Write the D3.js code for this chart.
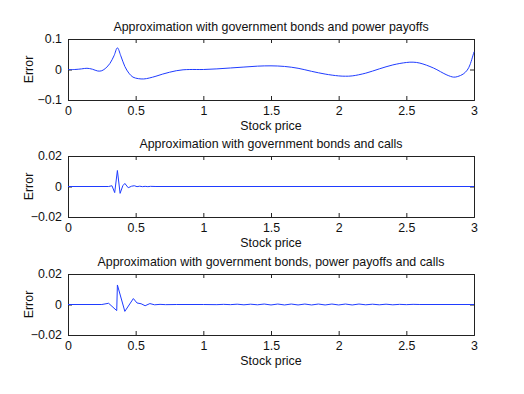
<!DOCTYPE html>
<html><head><meta charset="utf-8">
<script src="https://cdn.jsdelivr.net/npm/d3@7"></script>
<style>html,body{margin:0;padding:0;background:#fff;}svg{display:block;}</style>
</head><body>
<svg id="c" width="524" height="394"></svg>
<script>
// ---- data ----
const titles = [
  "Approximation with government bonds and power payoffs",
  "Approximation with government bonds and calls",
  "Approximation with government bonds, power payoffs and calls"
];
const xLabel = "Stock price";
const yLabel = "Error";
const xTicks = [0, 0.5, 1, 1.5, 2, 2.5, 3];
const yTicks1 = [-0.1, 0, 0.1];
const yTicks2 = [-0.02, 0, 0.02];
const yTicks3 = [-0.02, 0, 0.02];

// panel 1: bonds + power payoffs
const series1 = [
  [0,0],[0.05,0.0],[0.1,0.002],[0.14,0.004],[0.18,0.001],[0.22,-0.005],[0.25,-0.004],
  [0.28,0.005],[0.31,0.02],[0.34,0.045],[0.365,0.071],[0.39,0.045],[0.42,0.01],
  [0.45,-0.012],[0.48,-0.025],[0.52,-0.030],[0.56,-0.031],[0.6,-0.028],[0.65,-0.022],
  [0.7,-0.015],[0.75,-0.009],[0.8,-0.004],[0.85,-0.001],[0.9,0.0],[1.0,0.0],
  [1.1,0.002],[1.2,0.005],[1.3,0.008],[1.4,0.011],[1.5,0.012],[1.6,0.010],[1.7,0.004],
  [1.8,-0.006],[1.9,-0.015],[2.0,-0.021],[2.05,-0.022],[2.1,-0.021],[2.2,-0.012],
  [2.3,0.002],[2.4,0.015],[2.5,0.023],[2.55,0.024],[2.6,0.021],[2.7,0.005],
  [2.8,-0.018],[2.85,-0.025],[2.88,-0.023],[2.92,-0.015],[2.95,-0.002],[2.97,0.015],[3.0,0.058]
];
// panel 2: bonds + calls
const series2 = [
  [0,0],[0.3,0],[0.325,0.0005],[0.345,-0.004],[0.365,0.0105],[0.385,-0.0045],
  [0.405,0.0005],[0.42,0.002],[0.445,-0.0008],[0.47,0.0002],[0.49,0.0005],
  [0.51,-0.0001],[0.53,0.0002],[0.55,-0.0001],[0.57,0.0001],[0.59,-0.0001],
  [0.61,0.0001],[0.65,0],[3.0,0]
];
// panel 3: bonds + power payoffs + calls
const series3 = [
  [0,0],[0.25,0],[0.3,0.0008],[0.36,-0.004],[0.365,0.0128],[0.42,-0.0045],
  [0.483,0.0039],[0.51,0.001],[0.54,0.0005],[0.57,-0.0008],[0.605,0.0006],
  [0.64,-0.0002],[0.68,0.0001],[0.72,-0.0001],[0.8,0],[1.0,0],
  [1.1,-0.0001],[1.15,0.0001],[1.2,-0.0001],[1.25,0.0002],[1.3,-0.0002],
  [1.35,0.0002],[1.4,-0.0002],[1.45,0.0003],[1.5,-0.0003],[1.55,0.0003],
  [1.6,-0.0003],[1.65,0.0003],[1.7,-0.0003],[1.75,0.0003],[1.8,-0.0003],
  [1.85,0.0003],[1.9,-0.0003],[1.95,0.0003],[2.0,-0.0003],[2.05,0.0003],
  [2.1,-0.0003],[2.15,0.0003],[2.2,-0.0002],[2.25,0.0002],[2.3,-0.0002],
  [2.35,0.0002],[2.4,-0.0002],[2.45,0.0001],[2.5,-0.0001],[2.55,0.0001],
  [2.6,0],[3.0,0]
];

// ---- drawing ----
const svg = d3.select("#c");
const left = 68, right = 474;
const panels = [
  {top:39, bottom:100, dom:[-0.1,0.1], ticks:yTicks1, data:series1, title:titles[0], fmt:d=>d===0?"0":d3.format(".1f")(d), curve:d3.curveCatmullRom.alpha(0.5)},
  {top:156, bottom:217, dom:[-0.02,0.02], ticks:yTicks2, data:series2, title:titles[1], fmt:d=>d===0?"0":d3.format(".2f")(d), curve:d3.curveLinear},
  {top:274, bottom:335, dom:[-0.02,0.02], ticks:yTicks3, data:series3, title:titles[2], fmt:d=>d===0?"0":d3.format(".2f")(d), curve:d3.curveLinear}
];
const font = "'Liberation Sans', Arial, Helvetica, sans-serif";
const fs = 12.4;
const x = d3.scaleLinear().domain([0,3]).range([left,right]);
const xfmt = d => d3.format("")(d);

panels.forEach(p => {
  const y = d3.scaleLinear().domain(p.dom).range([p.bottom, p.top]);
  const g = svg.append("g");
  const tl = 4;
  const axB = g.append("g").attr("transform",`translate(0,${p.bottom})`)
    .call(d3.axisBottom(x).tickValues(xTicks).tickSize(-tl).tickPadding(6).tickFormat(xfmt));
  const axT = g.append("g").attr("transform",`translate(0,${p.top})`)
    .call(d3.axisTop(x).tickValues(xTicks).tickSize(-tl).tickFormat(""));
  const axL = g.append("g").attr("transform",`translate(${left},0)`)
    .call(d3.axisLeft(y).tickValues(p.ticks).tickSize(-tl).tickPadding(6).tickFormat(p.fmt));
  const axR = g.append("g").attr("transform",`translate(${right},0)`)
    .call(d3.axisRight(y).tickValues(p.ticks).tickSize(-tl).tickFormat(""));
  [axB,axT,axL,axR].forEach(a=>{
    a.select(".domain").attr("stroke","#222").attr("stroke-width",1);
    a.selectAll(".tick line").attr("stroke","#222");
    a.selectAll("text").attr("font-family",font).attr("font-size",fs).attr("fill","#111");
  });
  const line = d3.line().x(d=>x(d[0])).y(d=>y(d[1])).curve(p.curve);
  g.append("path").datum(p.data).attr("d",line).attr("fill","none")
    .attr("stroke","#1f3cff").attr("stroke-width",1);
  g.append("text").attr("x",(left+right)/2).attr("y",p.top-8).attr("text-anchor","middle")
    .attr("font-family",font).attr("font-size",fs).attr("fill","#111").text(p.title);
  g.append("text").attr("x",(left+right)/2).attr("y",p.bottom+29.5).attr("text-anchor","middle")
    .attr("font-family",font).attr("font-size",fs).attr("fill","#111").text(xLabel);
  g.append("text").attr("transform",`translate(32.5,${(p.top+p.bottom)/2}) rotate(-90)`)
    .attr("text-anchor","middle").attr("font-family",font).attr("font-size",fs).attr("fill","#111").text(yLabel);
});
</script>
</body></html>
